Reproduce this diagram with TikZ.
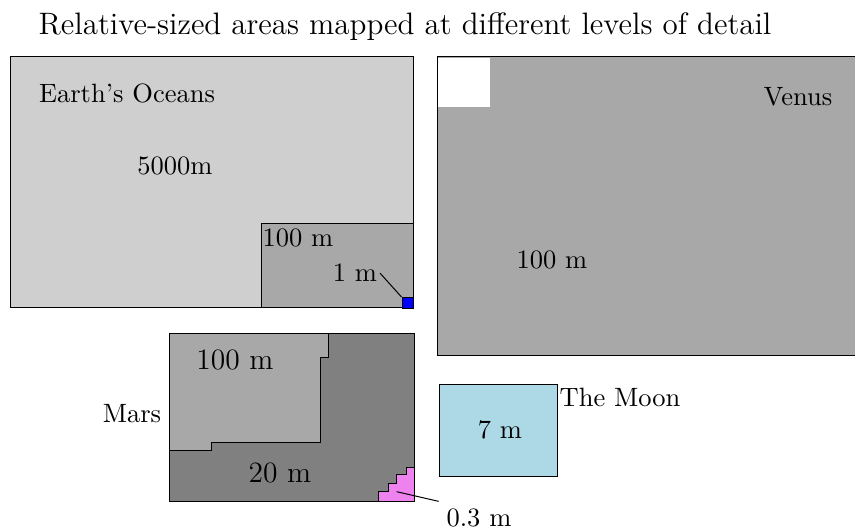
\documentclass[tikz,border=0pt]{standalone}
\usepackage{tikz}
\usetikzlibrary{positioning}

\definecolor{oceangray}{HTML}{CFCFCF}
\definecolor{midgray}{HTML}{A8A8A8}
\definecolor{darkgray}{HTML}{808080}
\definecolor{moonblue}{HTML}{ADD8E6}
\definecolor{pinkish}{HTML}{EE82EE}

\begin{document}
\begin{tikzpicture}[x=0.4pt, y=-0.4pt, area/.style={draw=black, fill=#1}, lbl/.style={anchor=base, inner sep=1pt, font=\fontsize{10.6}{12}\selectfont}, biglbl/.style={lbl, font=\fontsize{11.8}{14}\selectfont}]
    \useasboundingbox (0,0) rectangle (855,531);
    \clip (0,0) rectangle (855,531);

    \node[lbl, font=\fontsize{12.4}{14}\selectfont] (title) at (405,35) {Relative-sized areas mapped at different levels of detail};

    % Earth
    \draw[area=oceangray] (10,57) rectangle (413,308);
    \draw[area=midgray] (261,224) rectangle (413,308);
    \node[lbl] (earth) at (127,103) {Earth's Oceans};
    \node[lbl] (deep) at (175,175) {5000m};
    \node[lbl] (earthmid) at (298,247) {100 m};
    \node[lbl] (onem) at (355,282) {1 m};
    \node[draw=black, fill=blue, minimum size=4.4pt, inner sep=0pt] (bluebox) at (407.5,303) {};
    \draw (onem.east) -- (bluebox.north west);

    % Venus
    \draw[area=midgray] (437,57) rectangle (870,356);
    \fill[white] (437.6,57.6) rectangle (490,107);
    \node[lbl] (venus) at (798,106) {Venus};
    \node[lbl] (venusmid) at (552,269) {100 m};

    % Mars
    \draw[area=darkgray] (169,334) rectangle (414,502);
    \draw[area=midgray] (169,334) -- (328,334) -- (328,358) -- (320.7,358) -- (320.7,442.7)
        -- (211,442.7) -- (211,451) -- (169,451) -- cycle;
    \draw[area=pinkish] (378.3,502) -- (378.3,491.7) -- (388.3,491.7) -- (388.3,484) -- (396,484)
        -- (396,475) -- (406,475) -- (406,467.7) -- (414,467.7) -- (414,502) -- cycle;
    \node[lbl] (mars) at (132,423) {Mars};
    \node[biglbl] (marsmid) at (235,370) {100 m};
    \node[biglbl] (marslow) at (280,483) {20 m};
    \coordinate (stairs) at (396.7,491.7);
    \node[lbl, inner sep=3pt] (tiny) at (479,527) {0.3 m};
    \draw (stairs) -- (tiny.north west);

    % Moon
    \draw[area=moonblue] (439,385) rectangle (557,477);
    \node[lbl] (moonmid) at (500,439) {7 m};
    \node[lbl] (moon) at (620,407) {The Moon};
\end{tikzpicture}
\end{document}
